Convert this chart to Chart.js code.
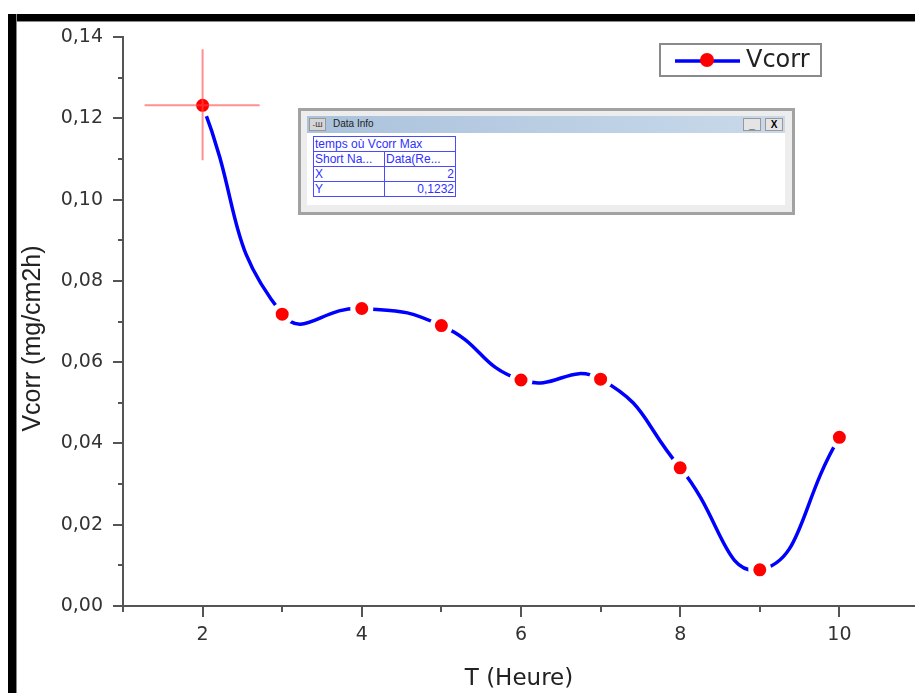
<!DOCTYPE html>
<html>
<head>
<meta charset="utf-8">
<script src="https://cdn.jsdelivr.net/npm/chart.js@4"></script>
<style>
  body { margin: 0; background: #fff; }
  #wrap { position: relative; width: 915px; height: 693px; overflow: hidden; }
  .band { position: absolute; background: #000; }
  #topBand { left: 8px; top: 14px; width: 907px; height: 7px; border-bottom: 1px solid #888; }
  #leftBand { left: 8px; top: 14px; width: 8px; height: 679px; border-right: 1px solid #888; }
  #info {
    position: absolute; left: 298px; top: 108px; width: 491px; height: 101px;
    border: 3px solid #a2a2a2; background: #ededed; font-family: Arial, "Liberation Sans", sans-serif;
  }
  #infoBar {
    position: absolute; left: 6px; top: 5px; width: 478px; height: 17px;
    background: linear-gradient(to right, #aac2dc, #c9d9ea);
  }
  #infoIcon {
    position: absolute; left: 2px; top: 2px; width: 17px; height: 13px;
    background: #d6d6d6; border: 1px solid #999; box-sizing: border-box;
    font-size: 8px; line-height: 11px; text-align: center; color: #333;
  }
  #infoTitle { position: absolute; left: 26px; top: 2px; font-size: 10px; color: #222; }
  .btn {
    position: absolute; top: 2px; width: 18px; height: 13px; box-sizing: border-box;
    background: #e4e4e4; border: 1px solid #999; font-size: 10px; line-height: 11px;
    text-align: center; color: #000; font-weight: bold;
  }
  #infoBody {
    position: absolute; left: 6px; top: 22px; width: 478px; height: 72px; background: #fff;
  }
  #infoTable {
    position: absolute; left: 6px; top: 3px; border-collapse: collapse;
    font-size: 12px; color: #2f2fff; table-layout: fixed;
  }
  #infoTable td {
    border: 1px solid #4a4aff; height: 14px; padding: 0 1px; white-space: nowrap;
    overflow: hidden; line-height: 14px;
  }
</style>
</head>
<body>
<div id="wrap">
  <canvas id="chart" width="915" height="693"></canvas>
  <div class="band" id="topBand"></div>
  <div class="band" id="leftBand"></div>
  <div id="info">
    <div id="infoBar">
      <div id="infoIcon">-Ш</div>
      <div id="infoTitle">Data Info</div>
      <div class="btn" style="left:436px">_</div>
      <div class="btn" style="left:458px">X</div>
    </div>
    <div id="infoBody">
      <table id="infoTable">
        <colgroup><col style="width:71px"><col style="width:71px"></colgroup>
        <tr><td colspan="2" id="infoName"></td></tr>
        <tr><td>Short Na...</td><td>Data(Re...</td></tr>
        <tr><td>X</td><td id="infoX" style="text-align:right"></td></tr>
        <tr><td>Y</td><td id="infoY" style="text-align:right"></td></tr>
      </table>
    </div>
  </div>
</div>
<script>
// data
const hours = [2, 3, 4, 5, 6, 7, 8, 9, 10];
const vcorr = [0.1232, 0.0718, 0.0732, 0.0690, 0.0556, 0.0558, 0.0340, 0.0089, 0.0415];
const seriesName = "Vcorr";
const xTitle = "T (Heure)";
const yTitle = "Vcorr (mg/cm2h)";
const infoName = "temps où Vcorr Max";

const axisColor = "#555";
const labelColor = "#333";
const wideFont = "'DejaVu Sans', sans-serif";
const arialFont = "Arial, 'Liberation Sans', sans-serif";

const comma = (v, d) => v.toFixed(d).replace(".", ",");

// the max point, shown in the Data Info box and with the crosshair
const maxIdx = vcorr.indexOf(Math.max(...vcorr));
document.getElementById("infoName").textContent = infoName;
document.getElementById("infoX").textContent = hours[maxIdx];
document.getElementById("infoY").textContent = comma(vcorr[maxIdx], 4);

const tickMarks = {
  id: "tickMarks",
  afterDraw(chart) {
    const { ctx, chartArea, scales: { x, y } } = chart;
    ctx.save();
    ctx.strokeStyle = axisColor;
    ctx.lineWidth = 2;
    ctx.beginPath();
    x.ticks.forEach((t) => {
      const px = Math.round(x.getPixelForValue(t.value));
      const len = t.value % 2 === 0 ? 11 : 6;
      ctx.moveTo(px, chartArea.bottom);
      ctx.lineTo(px, chartArea.bottom + len);
    });
    y.ticks.forEach((t) => {
      const py = Math.round(y.getPixelForValue(t.value));
      const len = Math.round(t.value * 100) % 2 === 0 ? 10 : 5;
      ctx.moveTo(chartArea.left, py);
      ctx.lineTo(chartArea.left - len, py);
    });
    ctx.stroke();

    // y title, a bit below the middle of the axis like the original
    ctx.translate(33, (chartArea.top + chartArea.bottom) / 2 + 17);
    ctx.rotate(-Math.PI / 2);
    ctx.fillStyle = "#222";
    ctx.font = "25px " + arialFont;
    ctx.textAlign = "center";
    ctx.textBaseline = "middle";
    ctx.fillText(yTitle, 0, 0);
    ctx.restore();
  },
};

const crosshair = {
  id: "crosshair",
  afterDatasetsDraw(chart) {
    const { ctx, scales: { x, y } } = chart;
    const px = x.getPixelForValue(hours[maxIdx]);
    const py = y.getPixelForValue(vcorr[maxIdx]);
    ctx.save();
    ctx.strokeStyle = "rgba(255, 70, 70, 0.6)";
    ctx.lineWidth = 2;
    ctx.beginPath();
    ctx.moveTo(px - 58, py);
    ctx.lineTo(px + 57, py);
    ctx.moveTo(px, py - 56);
    ctx.lineTo(px, py + 55);
    ctx.stroke();
    ctx.restore();
  },
};

const boxLegend = {
  id: "boxLegend",
  afterDraw(chart) {
    const ctx = chart.ctx;
    ctx.save();
    ctx.strokeStyle = "#8a8a8a";
    ctx.lineWidth = 2;
    ctx.strokeRect(660, 44, 161, 32);
    ctx.strokeStyle = "#0000ff";
    ctx.lineWidth = 3.5;
    ctx.beginPath();
    ctx.moveTo(675, 61);
    ctx.lineTo(740, 61);
    ctx.stroke();
    ctx.fillStyle = "#ff0000";
    ctx.beginPath();
    ctx.arc(707, 60, 7, 0, Math.PI * 2);
    ctx.fill();
    ctx.fillStyle = "#222";
    ctx.font = "24px " + wideFont;
    ctx.textBaseline = "middle";
    ctx.fillText(seriesName, 746, 61);
    ctx.restore();
  },
};

new Chart(document.getElementById("chart"), {
  type: "line",
  data: {
    datasets: [
      {
        label: seriesName,
        data: hours.map((h, i) => ({ x: h, y: vcorr[i] })),
        borderColor: "#0000ff",
        borderWidth: 3.5,
        tension: 0.5,
        pointRadius: 9,
        pointHoverRadius: 9,
        pointBackgroundColor: "#ff0000",
        pointBorderColor: "#ffffff",
        pointBorderWidth: 5,
        clip: false,
      },
    ],
  },
  options: {
    responsive: false,
    animation: false,
    devicePixelRatio: 1,
    layout: { autoPadding: false, padding: { top: 37, right: 0, bottom: 0, left: 0 } },
    plugins: { legend: { display: false }, tooltip: { enabled: false } },
    scales: {
      x: {
        type: "linear",
        min: 1,
        max: 10.95,
        afterFit: (s) => { s.height = 87; s.paddingLeft = 0; s.paddingRight = 0; },
        border: { display: true, color: axisColor, width: 2 },
        grid: { display: true, drawOnChartArea: false, drawTicks: true, tickLength: 11, color: "rgba(0,0,0,0)" },
        ticks: {
          stepSize: 1,
          includeBounds: false,
          autoSkip: false,
          maxRotation: 0,
          padding: 7,
          color: labelColor,
          font: { family: wideFont, size: 19 },
          callback: (v) => (v % 2 === 0 ? String(v) : ""),
        },
        title: {
          display: true,
          text: xTitle,
          color: "#222",
          font: { family: wideFont, size: 23 },
          padding: { top: 0, bottom: 0 },
        },
      },
      y: {
        min: 0,
        max: 0.14,
        afterFit: (s) => { s.width = 123; s.paddingTop = 0; s.paddingBottom = 0; },
        border: { display: true, color: axisColor, width: 2 },
        grid: { display: true, drawOnChartArea: false, drawTicks: true, tickLength: 10, color: "rgba(0,0,0,0)" },
        ticks: {
          stepSize: 0.01,
          autoSkip: false,
          padding: 10,
          color: labelColor,
          font: { family: wideFont, size: 19 },
          callback: (v) => (Math.round(v * 100) % 2 === 0 ? comma(v, 2) : ""),
        },
        title: { display: false },
      },
    },
  },
  plugins: [tickMarks, crosshair, boxLegend],
});
</script>
</body>
</html>
